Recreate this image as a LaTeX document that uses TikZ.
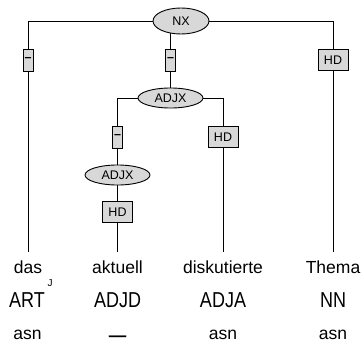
\documentclass[tikz,border=0pt]{standalone}
\usepackage{fontspec}
\usepackage{graphicx}
\setmainfont{Liberation Sans}
\usetikzlibrary{shapes.geometric,backgrounds}
\definecolor{boxgray}{HTML}{D8D8D8}
\newcommand{\tallText}[1]{\scalebox{1}[1.2]{#1}}
\begin{document}
\begin{tikzpicture}[x=1pt,y=-1pt,
  cat/.style={ellipse,draw,fill=boxgray,line width=0.9pt,inner sep=0pt,font=\fontsize{12.5}{14}\selectfont},
  edgelab/.style={rectangle,draw,fill=boxgray,line width=0.9pt,inner sep=0pt,font=\fontsize{12.5}{14}\selectfont},
  dashlab/.style={edgelab,minimum width=10pt,minimum height=22pt},
  hdlab/.style={edgelab,minimum width=30pt,minimum height=21pt},
  word/.style={font=\fontsize{17.5}{20}\selectfont,anchor=north,inner xsep=0pt,inner ysep=9pt},
  tagtext/.style={font=\fontsize{18}{20}\selectfont,anchor=base,inner sep=0pt},
  morph/.style={font=\fontsize{17.5}{20}\selectfont,anchor=base,inner sep=0pt},
  conn/.style={line width=0.9pt}]
\useasboundingbox (0,0) rectangle (363,350);
% nonterminals
\node[cat,minimum width=56pt,minimum height=26pt] (nx) at (181,21) {NX};
\node[cat,minimum width=65pt,minimum height=20pt] (adjx1) at (170.5,98) {ADJX};
\node[cat,minimum width=65pt,minimum height=20pt] (adjx2) at (117.5,175) {ADJX};
% edge labels
\node[dashlab] (e1) at (28,60) {\textbf{--}};
\node[dashlab] (e2) at (170.5,60) {\textbf{--}};
\node[hdlab] (e3) at (333,60) {HD};
\node[dashlab] (e4) at (117.5,137) {\textbf{--}};
\node[hdlab] (e5) at (223,137) {HD};
\node[hdlab] (e6) at (117.5,212) {HD};
% words
\node[word] (w1) at (28,252) {das};
\node[word] (w2) at (117.5,252) {aktuell};
\node[word] (w3) at (223,252) {diskutierte};
\node[word] (w4) at (333,252) {Thema};
\node[font=\fontsize{10}{11}\selectfont,inner sep=0pt] (j) at (50,283) {J};
% tags
\node[tagtext] (t1) at (27,307.5) {\tallText{ART}};
\node[tagtext] (t2) at (117.5,307.5) {\tallText{ADJD}};
\node[tagtext] (t3) at (223,307.5) {\tallText{ADJA}};
\node[tagtext] (t4) at (333,307.5) {\tallText{NN}};
% morph
\node[morph] (m1) at (27.5,339.5) {asn};
\node[morph] (m2) at (117.5,341) {\textbf{—}};
\node[morph] (m3) at (223,339.5) {asn};
\node[morph] (m4) at (333,339.5) {asn};
% connectors
\begin{scope}[on background layer]
\draw[conn] (nx.west) -| (e1.north);
\draw[conn] (e1.south) -- (w1.north);
\draw[conn] (e2.north) -- (e2.north |- nx.center);
\draw[conn] (e2.south) -- (adjx1.north);
\draw[conn] (nx.east) -| (e3.north);
\draw[conn] (e3.south) -- (w4.north);
\draw[conn] (adjx1.west) -| (e4.north);
\draw[conn] (e4.south) -- (adjx2.north);
\draw[conn] (adjx2.south) -- (e6.north);
\draw[conn] (e6.south) -- (w2.north);
\draw[conn] (adjx1.east) -| (e5.north);
\draw[conn] (e5.south) -- (w3.north);
\end{scope}
\end{tikzpicture}
\end{document}
